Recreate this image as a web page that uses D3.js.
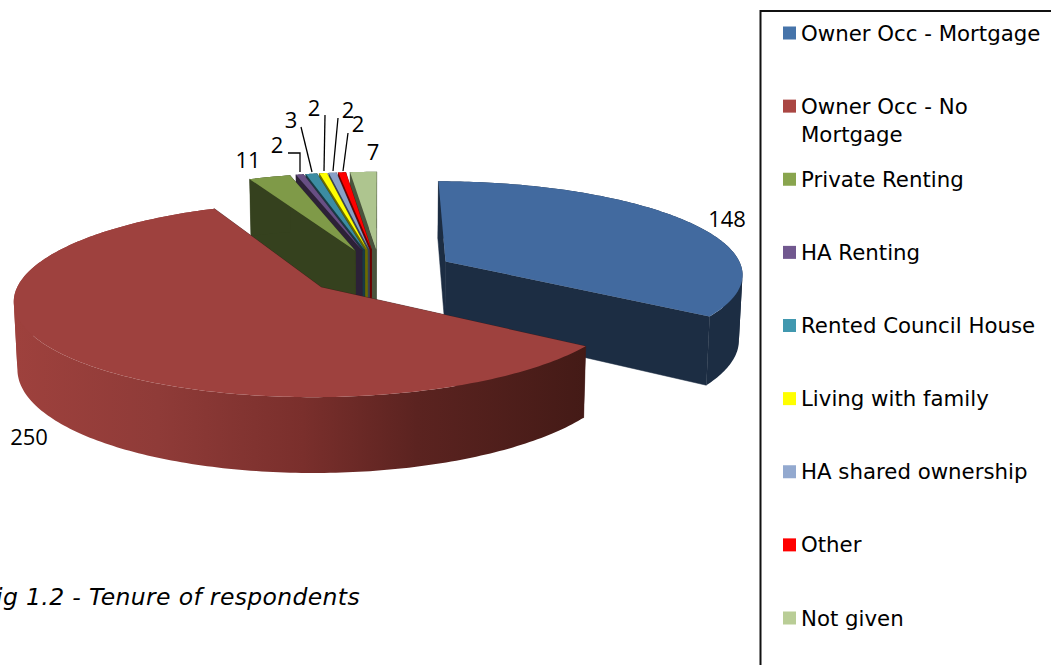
<!DOCTYPE html>
<html><head><meta charset="utf-8">
<script src="https://cdn.jsdelivr.net/npm/d3@7"></script>
<style>html,body{margin:0;padding:0;background:#fff;overflow:hidden}svg{display:block}</style>
</head><body>
<script>
const categories = ["Owner Occ - Mortgage","Owner Occ - No Mortgage","Private Renting","HA Renting","Rented Council House","Living with family","HA shared ownership","Other","Not given"];
const values = [148,250,11,2,3,2,2,2,7];
const topColors = ["#426a9f","#9e413e","#7f9a48","#684f84","#3c8ca2","#ffff00","#88a0c6","#ff0000","#aec58f"];
const legendColors = ["#4674aa","#aa4643","#89a54e","#71588f","#4198af","#ffff00","#93a9cf","#ff0000","#b9cd96"];
const title = "Fig 1.2 - Tenure of respondents";

const W=1051,H=665;
const svg=d3.select("body").append("svg").attr("width",W).attr("height",H);
const bodyFont="'DejaVu Sans',sans-serif", labelFont="'Open Sans',sans-serif";

const R=298,EXPLODE=75,TILT=0.31,PERSP=0.123,DEPTH=65,CX=380,CY=272,SHRINK=0.01;
const rScale=d3.scaleLinear().domain([0,1]).range([0,R]);
const arcs=d3.pie().sort(null).value(d=>d)(values);
function project(x,y,z){
  const s=1/(1+PERSP*y/R);
  return [CX+x*s*(1-SHRINK*z), CY-TILT*y*s+z*DEPTH*s];
}
function pointAt(mid,a,r,z){
  const ox=EXPLODE*Math.sin(mid), oy=EXPLODE*Math.cos(mid);
  return project(ox+rScale(r)*Math.sin(a), oy+rScale(r)*Math.cos(a), z);
}
const line=d3.line();
const defs=svg.append("defs");
function gradient(id,x1,x2,stops){
  const g=defs.append("linearGradient").attr("id",id).attr("gradientUnits","userSpaceOnUse")
    .attr("x1",x1).attr("x2",x2).attr("y1",0).attr("y2",0);
  stops.forEach(s=>g.append("stop").attr("offset",s[0]).attr("stop-color",s[1]));
}
gradient("side1",15,590,[[0,"#9e413d"],[0.25,"#8f3b38"],[0.5,"#7a2f2c"],[0.7,"#5b2320"],[1,"#431a16"]]);
function dark(c,f){const k=d3.rgb(c);return d3.rgb(k.r*f,k.g*f,k.b*f).formatHex();}

const order=[8,7,6,5,4,3,2,0,1];
order.forEach(i=>{
  const d=arcs[i],mid=(d.startAngle+d.endAngle)/2,g=svg.append("g");
  const n=Math.max(8,Math.round((d.endAngle-d.startAngle)*60));
  const steps=d3.range(0,n+1);
  const ang=d3.scaleLinear().domain([0,n]).range([d.startAngle,d.endAngle]);
  const flat=dark(topColors[i],0.42);
  const side=i===1?"url(#side1)":flat;
  [d.endAngle,d.startAngle].forEach(a=>{
    g.append("path").attr("fill",flat).attr("stroke",flat).attr("stroke-width",0.5).attr("d",line([
      pointAt(mid,a,0,0),pointAt(mid,a,1,0),pointAt(mid,a,1,1),pointAt(mid,a,0,1)])+"Z");
  });
  const tp=steps.map(k=>pointAt(mid,ang(k),1,0));
  // outer wall: split at the silhouette angles so each band is a simple polygon
  const cuts=Array.from(new Set([0,d3.leastIndex(tp,p=>p[0]),d3.greatestIndex(tp,p=>p[0]),n])).sort(d3.ascending);
  d3.pairs(cuts).forEach(([p,q])=>{
    const run=steps.slice(p,q+1);
    g.append("path").attr("fill",side).attr("d",line(
      run.map(k=>pointAt(mid,ang(k),1,0)).concat(run.slice().reverse().map(k=>pointAt(mid,ang(k),1,1))))+"Z");
  });
  g.append("path").attr("fill",topColors[i]).attr("d",line([pointAt(mid,d.startAngle,0,0)].concat(tp))+"Z");
});

// leader lines
const leaders=[
 {i:3,pts:[[288,153],[300,153],[300,172]]},
 {i:4,pts:[[301,127],[312,172]]},
 {i:5,pts:[[325,115],[324,171]]},
 {i:6,pts:[[338,118],[333,171]]},
 {i:7,pts:[[348,133],[343,171]]}
];
leaders.forEach(l=>svg.append("path").attr("d",line(l.pts)).attr("fill","none").attr("stroke","#000").attr("stroke-width",1.3));

const labelPos=[[727,219],[29,437],[248,160],[277,145],[291,120],[314,108],[348,110],[358,124],[373,152]];
values.forEach((v,i)=>svg.append("text").attr("x",labelPos[i][0]).attr("y",labelPos[i][1]+8)
  .attr("text-anchor","middle").attr("font-family",labelFont).attr("font-size",22).attr("fill","#000").text(v));

// legend
svg.append("path").attr("d","M760.5,665V11H1051").attr("fill","none").attr("stroke","#111").attr("stroke-width",2);
const legendY=d3.scaleLinear().domain([0,8]).range([33,618]);
categories.forEach((c,i)=>{
  const y=legendY(i);
  svg.append("rect").attr("x",783).attr("y",y-6.5).attr("width",13).attr("height",13).attr("fill",legendColors[i]);
  const t=svg.append("text").attr("x",801).attr("y",y+7.5).attr("font-family",bodyFont).attr("font-size",21.3).attr("fill","#000");
  if(i===1){
    t.append("tspan").attr("x",801).text("Owner Occ - No");
    t.append("tspan").attr("x",801).attr("dy",28).text("Mortgage");
  } else t.text(c);
});
svg.append("text").attr("x",360).attr("y",605).attr("text-anchor","end").attr("font-family",bodyFont)
  .attr("font-style","italic").attr("font-size",23.5).attr("letter-spacing",0.35).attr("fill","#000").text(title);
</script>
</body></html>
